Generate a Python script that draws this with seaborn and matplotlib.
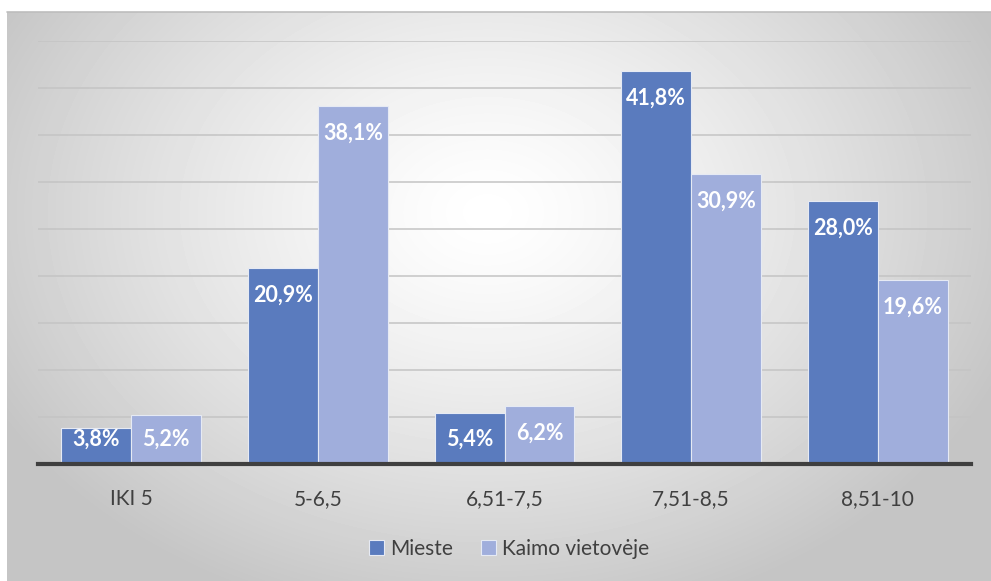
import numpy as np
import pandas as pd
import matplotlib.pyplot as plt
import seaborn as sns

# chart data
categories = ['IKI 5', '5-6,5', '6,51-7,5', '7,51-8,5', '8,51-10']
mieste = [3.8, 20.9, 5.4, 41.8, 28.0]
kaimo = [5.2, 38.1, 6.2, 30.9, 19.6]
series_names = ['Mieste', 'Kaimo vietovėje']

df = pd.DataFrame({
    'grupe': categories * 2,
    'procentai': mieste + kaimo,
    'serija': [series_names[0]] * len(categories) + [series_names[1]] * len(categories),
})

sns.set_theme(style="white")
plt.rcParams['font.family'] = ['Lato', 'DejaVu Sans']

W, H = 991, 581
fig = plt.figure(figsize=(W / 100, H / 100), dpi=100)
fig.patch.set_facecolor('white')

# radial grey gradient background of the chart area
bg = fig.add_axes([7 / W, 0, 1 - 7 / W, 1 - 12 / H], zorder=0)
yy, xx = np.mgrid[0:H - 12, 0:W - 7]
cx, cy = 480, 200
r = np.sqrt(((xx - cx) / 560) ** 2 + ((yy - cy) / 420) ** 2)
r = np.clip(r, 0, 1)
shade = 1.0 - 0.23 * r ** 1.3
bg.imshow(shade, cmap='gray', vmin=0, vmax=1, aspect='auto', interpolation='bilinear')
bg.set_axis_off()
fig.add_artist(plt.Line2D([7 / W, 1], [1 - 12 / H, 1 - 12 / H], transform=fig.transFigure,
                          color='#BDBDBD', lw=1.2, zorder=1))

ax = fig.add_axes([38 / W, 1 - 464 / H, 933 / W, 423 / H], zorder=2)
ax.patch.set_alpha(0)

palette = ['#5A7BBE', '#A0AEDC']
sns.barplot(data=df, x='grupe', y='procentai', hue='serija', palette=palette,
            width=0.75, edgecolor='#E6EAF4', linewidth=0.8, saturation=1,
            ax=ax, legend=True, zorder=3)

ax.set_ylim(0, 45)
ax.set_yticks(np.arange(5, 46, 5))
ax.yaxis.grid(True, color='#C4C4C4', linewidth=1.1)
ax.set_axisbelow(True)
ax.set_yticklabels([])
ax.tick_params(axis='y', length=0)
ax.tick_params(axis='x', length=0, labelsize=15, labelcolor='#404040', pad=18)
ax.set_xlabel('')
ax.set_ylabel('')
for s in ['top', 'right', 'left']:
    ax.spines[s].set_visible(False)
ax.spines['bottom'].set_color('#3F3F3F')
ax.spines['bottom'].set_linewidth(3)
ax.spines['bottom'].set_zorder(5)

# data labels inside bar ends
for cont in ax.containers:
    for bar in cont:
        v = bar.get_height()
        ypos = max(v - 2.9, 2.6)
        ax.text(bar.get_x() + bar.get_width() / 2, ypos, f'{v:.1f}%'.replace('.', ','),
                ha='center', va='center', color='white', fontsize=15.5,
                fontweight='bold', zorder=6)

ax.legend(loc='center', bbox_to_anchor=(0.505, -0.2), ncol=2, frameon=False,
          fontsize=15, handlelength=0.75, handleheight=0.75, handletextpad=0.3,
          columnspacing=1.3, labelcolor='#404040')

fig.savefig('out.png', dpi=100)
